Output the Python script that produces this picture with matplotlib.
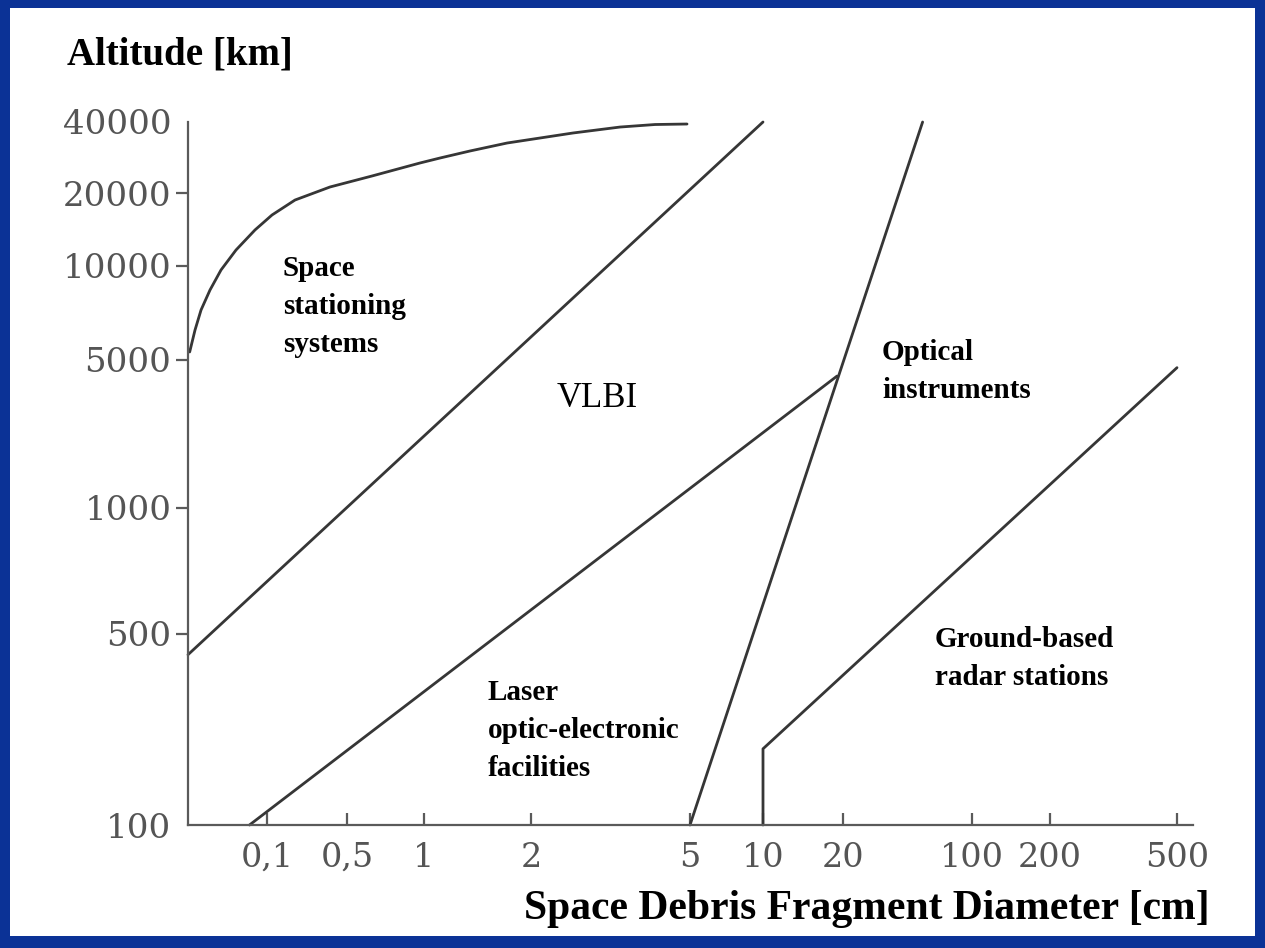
import numpy as np
import matplotlib
matplotlib.use("Agg")
import matplotlib.pyplot as plt
from matplotlib.patches import Rectangle

# ---------------- data ----------------
x_ticks = [0.1, 0.5, 1, 2, 5, 10, 20, 100, 200, 500]
x_tick_labels = ["0,1", "0,5", "1", "2", "5", "10", "20", "100", "200", "500"]
y_ticks = [100, 500, 1000, 5000, 10000, 20000, 40000]
y_tick_labels = ["100", "500", "1000", "5000", "10000", "20000", "40000"]
x_limits = (0.01, 560)
y_limits = (100, 40000)

stationing_d = [0.0105, 0.01227, 0.01462, 0.01899, 0.02617, 0.04053, 0.07047, 0.1106,
                0.1757, 0.3553, 0.626, 0.9647, 1.109, 1.347, 1.713, 2.106, 2.548,
                3.341, 4.088, 4.915]
stationing_alt = [5305, 6237, 7228, 8378, 9710, 11640, 14080, 16230, 18710, 21210,
                  23610, 26810, 28140, 30140, 32580, 34210, 35930, 38080, 39030, 39220]
vlbi_d = [0.01, 10]
vlbi_alt = [420, 40000]
laser_d = [0.06, 19]
laser_alt = [100, 4200]
optical_d = [5, 54]
optical_alt = [100, 40000]
radar_d = [10, 10, 500]
radar_alt = [100, 190, 4600]

# ---------------- non-uniform axis scales (layout of the printed axes) -------
X_ANCHOR_VALUES = [0.01, 0.1, 0.5, 1, 2, 5, 10, 20, 100, 200, 500, 560]
X_ANCHOR_POS = [188, 267, 347, 424, 531, 690, 763, 843, 972, 1050, 1177, 1193]
Y_ANCHOR_VALUES = [100, 500, 1000, 5000, 10000, 20000, 40000]
Y_ANCHOR_POS = [0, 191, 317, 465, 559, 632, 703]


def make_scale(values, positions):
    lv = np.log10(np.asarray(values, float))
    ps = np.asarray(positions, float)
    s0 = (ps[1] - ps[0]) / (lv[1] - lv[0])
    s1 = (ps[-1] - ps[-2]) / (lv[-1] - lv[-2])

    def fwd(v):
        v = np.clip(np.asarray(v, float), 1e-12, None)
        l = np.log10(v)
        out = np.interp(l, lv, ps)
        out = np.where(l < lv[0], ps[0] + (l - lv[0]) * s0, out)
        out = np.where(l > lv[-1], ps[-1] + (l - lv[-1]) * s1, out)
        return out

    def inv(p):
        p = np.asarray(p, float)
        return 10 ** np.interp(p, ps, lv)

    return fwd, inv


W, H = 1265, 948
fig = plt.figure(figsize=(W / 100, H / 100), dpi=100)
fig.patch.set_facecolor("#0b3296")
fig.patches.append(Rectangle((10 / W, (H - 936) / H), (1255 - 10) / W, (936 - 8) / H,
                             transform=fig.transFigure, facecolor="white",
                             edgecolor="none", zorder=-5))

ax_left, ax_right, ax_top, ax_bottom = 188, 1193, 122, 825
ax = fig.add_axes([ax_left / W, (H - ax_bottom) / H, (ax_right - ax_left) / W,
                   (ax_bottom - ax_top) / H])
ax.set_zorder(2)
ax.set_facecolor("none")
ax.set_xscale("function", functions=make_scale(X_ANCHOR_VALUES, X_ANCHOR_POS))
ax.set_yscale("function", functions=make_scale(Y_ANCHOR_VALUES, Y_ANCHOR_POS))
ax.set_xlim(*x_limits)
ax.set_ylim(*y_limits)

line_kw = dict(color="#363636", lw=2.0, solid_capstyle="round", solid_joinstyle="round",
               clip_on=False)
ax.plot(stationing_d, stationing_alt, **line_kw)
ax.plot(vlbi_d, vlbi_alt, **line_kw)
ax.plot(laser_d, laser_alt, **line_kw)
ax.plot(optical_d, optical_alt, **line_kw)
ax.plot(radar_d, radar_alt, **line_kw)

axis_col = "#5a5a5a"
for s in ["top", "right"]:
    ax.spines[s].set_visible(False)
for s in ["left", "bottom"]:
    ax.spines[s].set_color(axis_col)
    ax.spines[s].set_linewidth(1.6)

ax.set_xticks(x_ticks)
ax.set_xticklabels(x_tick_labels)
ax.set_yticks(y_ticks)
ax.set_yticklabels(y_tick_labels)
ax.minorticks_off()
ax.tick_params(axis="x", direction="in", length=9, width=1.6, color=axis_col,
               pad=12, labelsize=24, labelcolor="#555555")
ax.tick_params(axis="y", direction="out", length=9, width=1.6, color=axis_col,
               pad=3, labelsize=24.5, labelcolor="#555555")
for lab in ax.get_xticklabels() + ax.get_yticklabels():
    lab.set_fontfamily("DejaVu Serif")
yt = ax.yaxis.get_major_ticks()
yt[0].tick1line.set_visible(False)
yt[-1].tick1line.set_visible(False)

serif = "Liberation Serif"


def ftext(x, y, s, **kw):
    fig.text(x / W, 1 - y / H, s, family=serif, **kw)


ftext(67, 65, "Altitude [km]", fontsize=28, fontweight="bold", va="baseline")
ftext(1210, 919, "Space Debris Fragment Diameter [cm]", fontsize=30,
      fontweight="bold", va="baseline", ha="right")

labels = [
    (["Space", "stationing", "systems"], 283, 276, "bold", 21),
    (["VLBI"], 557, 407, "normal", 25),
    (["Optical", "instruments"], 882, 360, "bold", 21),
    (["Laser", "optic-electronic", "facilities"], 488, 700, "bold", 21),
    (["Ground-based", "radar stations"], 935, 647, "bold", 21),
]
for lines, x0, y0, wt, fs in labels:
    for i, t in enumerate(lines):
        ftext(x0, y0 + i * 38, t, fontsize=fs, fontweight=wt, va="baseline", color="black")

fig.savefig("out.png", dpi=100, facecolor=fig.get_facecolor())
